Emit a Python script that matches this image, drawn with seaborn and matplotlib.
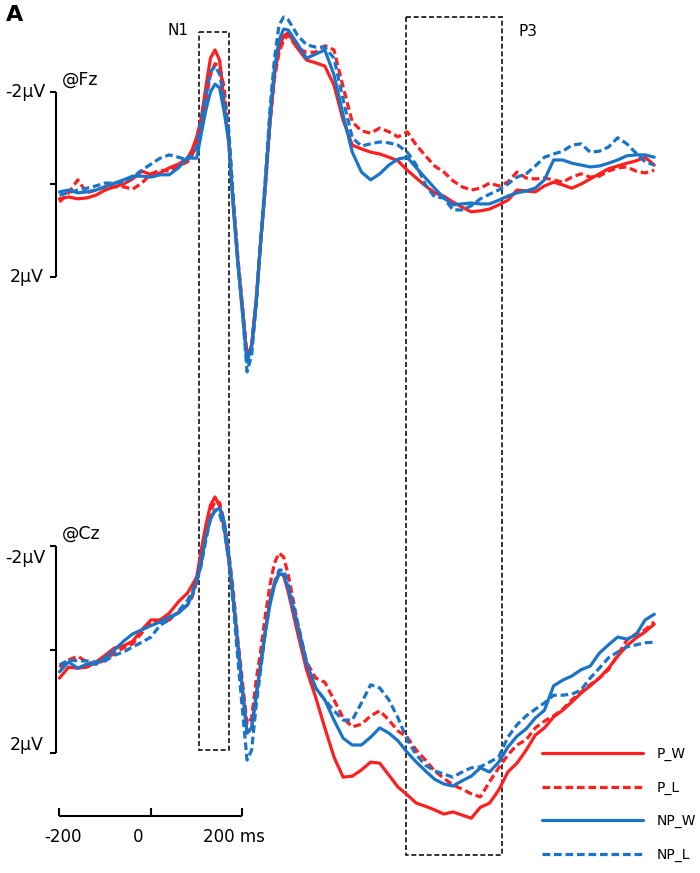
import numpy as np
import pandas as pd
import matplotlib
matplotlib.use("Agg")
import matplotlib.pyplot as plt
from matplotlib.lines import Line2D
from matplotlib.patches import Rectangle
import seaborn as sns

# sample times (ms), finer around N1 / P2 peaks
times = np.concatenate([np.arange(-200, 81, 20), np.arange(90, 301, 10), np.arange(320, 1101, 20)])
conditions = ["P_W", "P_L", "NP_W", "NP_L"]

# grand averages at Fz (uV, negative up)
fz_p_w = [0.31, 0.27, 0.31, 0.29, 0.23, 0.12, 0.05, -0.01, -0.12, -0.29, -0.21, -0.25, -0.36, -0.44, -0.57,
          -0.75, -1.03, -1.44, -2.11, -2.73, -2.91, -2.69, -1.76, -0.92, 0.44, 1.68, 2.71, 3.76, 3.47, 2.50,
          1.20, 0.01, -1.35, -2.37, -2.95, -3.21, -3.28,
          -2.95, -2.69, -2.63, -2.56, -2.15, -1.39, -0.85, -0.77, -0.70, -0.66, -0.59, -0.51, -0.31, -0.14,
          0.03, 0.18, 0.25, 0.38, 0.49, 0.59, 0.57, 0.53, 0.44, 0.34, 0.12, 0.14, 0.16, 0.03, -0.05, 0.01,
          0.08, -0.01, -0.12, -0.23, -0.34, -0.40, -0.46, -0.51, -0.59, -0.42]
fz_p_l = [0.38, 0.18, -0.10, 0.18, 0.12, 0.05, 0.05, 0.05, 0.10, -0.03, -0.23, -0.31, -0.29, -0.40, -0.49,
          -0.64, -0.85, -1.29, -1.83, -2.37, -2.61, -2.56, -2.09, -1.07, 0.34, 1.59, 2.61, 3.69, 3.47, 2.50,
          1.24, 0.08, -1.29, -2.30, -2.86, -3.12, -3.23,
          -2.95, -2.86, -2.86, -3.00, -2.91, -2.11, -1.35, -1.16, -1.11, -1.22, -1.14, -1.03, -1.14, -0.85,
          -0.62, -0.40, -0.27, -0.08, 0.05, 0.12, 0.08, -0.03, 0.03, -0.05, -0.27, -0.14, -0.12, -0.14,
          -0.10, -0.05, -0.16, -0.23, -0.16, -0.18, -0.29, -0.36, -0.38, -0.29, -0.25, -0.31]
fz_np_w = [0.16, 0.12, 0.18, 0.16, 0.12, 0.05, -0.03, -0.10, -0.18, -0.18, -0.16, -0.21, -0.21, -0.36, -0.59,
           -0.57, -0.57, -1.11, -1.61, -2.00, -2.17, -2.09, -1.57, -0.92, 0.51, 1.72, 2.76, 3.84, 3.51, 2.54,
           1.20, -0.03, -1.44, -2.52, -3.12, -3.36, -3.34,
           -3.04, -2.73, -2.82, -2.91, -2.37, -1.50, -0.70, -0.27, -0.10, -0.23, -0.42, -0.55, -0.59, -0.36,
           -0.14, 0.08, 0.29, 0.44, 0.42, 0.40, 0.42, 0.42, 0.34, 0.25, 0.18, 0.14, 0.08, -0.10, -0.53, -0.53,
           -0.46, -0.42, -0.38, -0.40, -0.46, -0.53, -0.62, -0.64, -0.64, -0.59]
fz_np_l = [0.23, 0.18, 0.12, 0.08, 0.03, -0.03, -0.03, -0.05, -0.16, -0.31, -0.44, -0.57, -0.64, -0.59, -0.53,
           -0.64, -0.81, -1.39, -1.91, -2.43, -2.56, -2.39, -1.83, -1.18, 0.34, 1.68, 2.76, 4.05, 3.69, 2.61,
           1.16, -0.14, -1.61, -2.73, -3.45, -3.62, -3.56,
           -3.23, -3.02, -2.97, -2.97, -2.73, -1.83, -1.01, -0.83, -0.88, -0.92, -0.90, -0.85, -0.70, -0.42,
           0.01, 0.27, 0.29, 0.55, 0.55, 0.46, 0.31, 0.21, 0.12, -0.01, -0.16, -0.23, -0.40, -0.59, -0.66,
           -0.72, -0.85, -0.88, -0.70, -0.72, -0.81, -1.01, -0.88, -0.68, -0.49, -0.42]

# grand averages at Cz
cz_p_w = [0.55, 0.34, 0.36, 0.34, 0.24, 0.11, -0.03, -0.07, -0.16, -0.38, -0.57, -0.57, -0.70, -0.92, -1.09,
          -1.24, -1.40, -1.92, -2.40, -2.78, -2.94, -2.76, -2.34, -1.72, -0.95, -0.05, 0.78, 1.61, 1.51, 0.88,
          0.24, -0.37, -0.95, -1.28, -1.47, -1.42, -1.11,
          -0.34, 0.39, 0.92, 1.51, 2.07, 2.46, 2.44, 2.32, 2.17, 2.19, 2.42, 2.65, 2.80, 2.96, 3.02, 3.09,
          3.17, 3.13, 3.19, 3.25, 3.04, 2.96, 2.71, 2.36, 2.19, 1.94, 1.65, 1.51, 1.30, 1.17, 1.01, 0.84,
          0.70, 0.55, 0.36, 0.13, -0.07, -0.22, -0.34, -0.49]
cz_p_l = [0.34, 0.20, 0.13, 0.24, 0.28, 0.20, 0.07, -0.03, -0.11, -0.32, -0.53, -0.53, -0.57, -0.72, -0.86,
          -1.01, -1.30, -1.67, -2.21, -2.65, -2.86, -2.83, -2.46, -1.88, -1.11, -0.18, 0.63, 1.44, 1.32, 0.59,
          0.01, -0.66, -1.24, -1.67, -1.86, -1.78, -1.44,
          -0.53, 0.24, 0.55, 0.63, 0.97, 1.32, 1.49, 1.44, 1.28, 1.18, 1.36, 1.57, 1.69, 1.94, 2.13, 2.34,
          2.48, 2.61, 2.69, 2.78, 2.84, 2.55, 2.28, 2.03, 1.84, 1.74, 1.51, 1.38, 1.28, 1.15, 0.97, 0.82,
          0.68, 0.55, 0.39, 0.11, -0.18, -0.30, -0.38, -0.53]
cz_np_w = [0.43, 0.24, 0.36, 0.28, 0.28, 0.16, 0.01, -0.16, -0.30, -0.38, -0.46, -0.53, -0.63, -0.70, -0.86,
           -1.05, -1.34, -1.72, -2.17, -2.51, -2.67, -2.73, -2.46, -1.82, -0.99, -0.09, 0.78, 1.61, 1.51, 0.88,
           0.30, -0.34, -0.86, -1.24, -1.45, -1.45, -1.18,
           -0.47, 0.26, 0.74, 0.97, 1.36, 1.71, 1.84, 1.84, 1.69, 1.51, 1.61, 1.76, 1.98, 2.17, 2.34, 2.50,
           2.59, 2.63, 2.53, 2.44, 2.28, 2.36, 2.17, 1.88, 1.67, 1.53, 1.32, 1.17, 0.70, 0.59, 0.51, 0.39,
           0.32, 0.07, -0.09, -0.24, -0.20, -0.28, -0.57, -0.68]
cz_np_l = [0.30, 0.20, 0.22, 0.22, 0.24, 0.22, 0.11, 0.05, -0.05, -0.14, -0.24, -0.47, -0.57, -0.74, -0.95,
           -1.11, -1.30, -1.63, -2.11, -2.53, -2.69, -2.61, -2.30, -1.72, -0.86, 0.20, 1.17, 2.13, 1.94, 1.07,
           0.36, -0.34, -0.90, -1.30, -1.53, -1.53, -1.24,
           -0.53, 0.24, 0.74, 0.97, 1.18, 1.36, 1.36, 1.03, 0.68, 0.74, 0.97, 1.32, 1.74, 2.03, 2.23, 2.34,
           2.40, 2.46, 2.36, 2.28, 2.26, 2.17, 2.07, 1.69, 1.45, 1.28, 1.15, 1.03, 0.88, 0.88, 0.86, 0.78,
           0.55, 0.36, 0.16, 0.05, -0.05, -0.09, -0.13, -0.14]

# component windows (ms)
n1_window = (106, 170)
p3_window = (557, 768)

red = "#fe1f1f"
blue = "#1a74c8"
palette = {"P_W": red, "P_L": red, "NP_W": blue, "NP_L": blue}
dash_styles = {"P_W": "", "P_L": (2.4, 1.2), "NP_W": "", "NP_L": (2.4, 1.2)}


def long_form(series):
    frames = []
    for cond, vals in zip(conditions, series):
        frames.append(pd.DataFrame({"time": times, "uV": vals, "condition": cond}))
    return pd.concat(frames, ignore_index=True)


fz = long_form([fz_p_w, fz_p_l, fz_np_w, fz_np_l])
cz = long_form([cz_p_w, cz_p_l, cz_np_w, cz_np_l])

sns.set_theme(style="white")
plt.rcParams["font.family"] = ["DejaVu Sans"]
plt.rcParams["text.color"] = "black"

fig = plt.figure(figsize=(7, 8.73), dpi=100)
# two overlapping transparent axes, each with its own uV scale
ax_fz = fig.add_axes([0, 0, 1, 1])
ax_cz = fig.add_axes([0, 0, 1, 1])
for ax in (ax_fz, ax_cz):
    ax.set_xlim(-330, 1200)
    ax.patch.set_alpha(0)
ax_fz.set_ylim(14.886, -3.989)
ax_cz.set_ylim(4.306, -12.514)

for ax, df in ((ax_fz, fz), (ax_cz, cz)):
    sns.lineplot(data=df, x="time", y="uV", hue="condition", style="condition",
                 hue_order=conditions, style_order=conditions, palette=palette,
                 dashes=dash_styles, linewidth=2.3, errorbar=None, legend=False, ax=ax)

for ax in (ax_fz, ax_cz):
    ax.set_axis_off()

# N1 / P3 windows, spanning both electrodes
box_kw = dict(fill=False, edgecolor="#111111", linewidth=1.2, linestyle=(0, (3, 1.6)), zorder=1)
ax_fz.add_patch(Rectangle((n1_window[0], -3.30), n1_window[1] - n1_window[0], 15.53, **box_kw))
ax_fz.add_patch(Rectangle((p3_window[0], -3.62), p3_window[1] - p3_window[0], 18.12, **box_kw))
ax_fz.text(58, -3.34, "N1", fontsize=11, ha="center", va="center")
ax_fz.text(824, -3.30, "P3", fontsize=11, ha="center", va="center")

# amplitude scale bars
bar_x, tick_x = -207.7, -221.5
for ax, name, lab_lo, lab_hi, name_y in ((ax_fz, "@Fz", -2.0, 2.0, -2.26),
                                         (ax_cz, "@Cz", -1.76, 1.84, -2.24)):
    ax.plot([bar_x, bar_x], [-2, 2], color="black", lw=1.5, solid_capstyle="butt")
    for v in (-2, 0, 2):
        ax.plot([tick_x, bar_x], [v, v], color="black", lw=1.5, solid_capstyle="butt")
    ax.text(-231, lab_lo, "-2µV", fontsize=12.5, ha="right", va="center")
    ax.text(-234, lab_hi, "2µV", fontsize=12.5, ha="right", va="center")
    ax.text(-194, name_y, name, fontsize=12.5, ha="left", va="center")

# time scale bar
ax_cz.plot([-200, 200], [3.21, 3.21], color="black", lw=1.5, solid_capstyle="butt")
for t in (-200, 0, 200):
    ax_cz.plot([t, t], [3.21, 3.05], color="black", lw=1.5, solid_capstyle="butt")
ax_cz.text(-192, 3.61, "-200", fontsize=12, ha="center", va="center")
ax_cz.text(-29, 3.61, "0", fontsize=12, ha="center", va="center")
ax_cz.text(114, 3.61, "200 ms", fontsize=12, ha="left", va="center")

fig.text(15 / 700, 1 - 15 / 873, "A", fontsize=16, fontweight="bold", ha="center", va="center")

handles = [Line2D([], [], color=palette[c], lw=2.3,
                  dashes=dash_styles[c] if dash_styles[c] else (None, None)) for c in conditions]
fig.legend(handles, conditions, loc="upper left", bbox_to_anchor=(542 / 700, 1 - 747 / 873),
           frameon=False, fontsize=10, handlelength=7.3, handletextpad=0.95,
           labelspacing=1.4, borderpad=0, borderaxespad=0)

plt.savefig("out.png", dpi=100)
